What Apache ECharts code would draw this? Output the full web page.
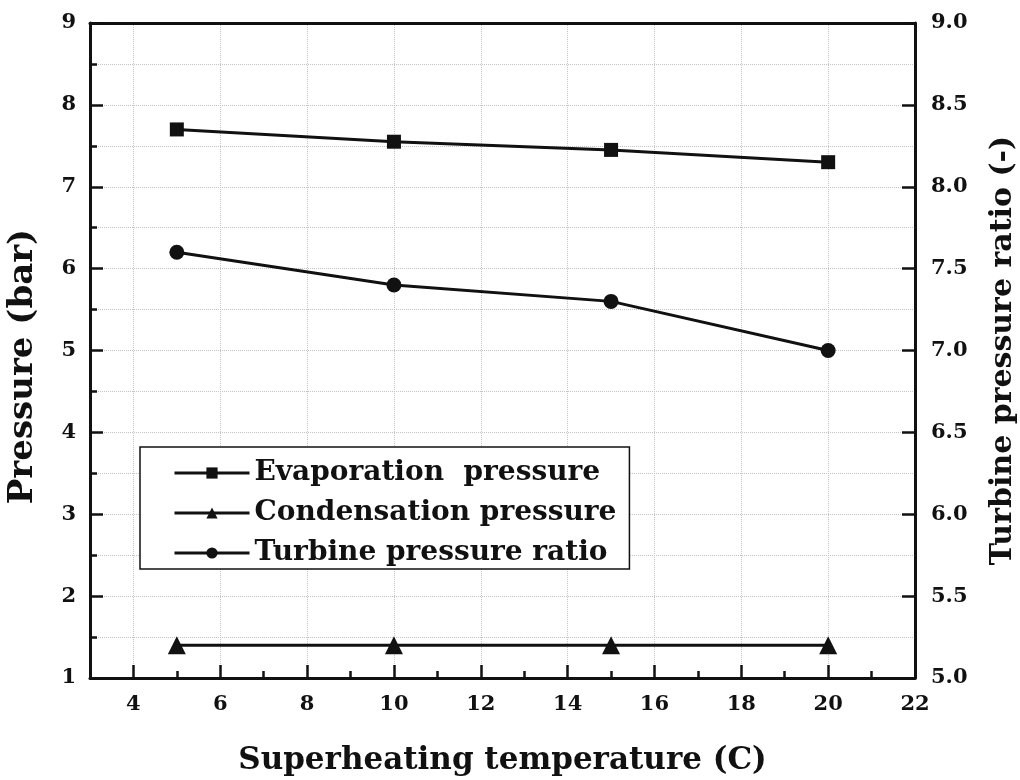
<!DOCTYPE html>
<html>
<head>
<meta charset="utf-8">
<script src="https://cdn.jsdelivr.net/npm/echarts@6/dist/echarts.min.js"></script>
<style>html,body{margin:0;padding:0;background:#fff;}#c{width:1020px;height:780px;}</style>
</head>
<body>
<div id="c"></div>
<script>
const superheat = [5, 10, 15, 20];
const evaporation = [7.7, 7.55, 7.45, 7.3];
const condensation = [1.4, 1.4, 1.4, 1.4];
const pressureRatio = [7.6, 7.4, 7.3, 7.0];
const xMajorTicks = [4, 6, 8, 10, 12, 14, 16, 18, 20, 22];
const xMinorTicks = [5, 7, 9, 11, 13, 15, 17, 19, 21];

const FONT = 'DejaVu Serif';
const INK = '#111';
const GRIDC = '#c4c4c4';
const pair = (ys) => superheat.map((x, i) => [x, ys[i]]);

const chart = echarts.init(document.getElementById('c'));
chart.setOption({
  backgroundColor: '#fff',
  animation: false,
  grid: { left: 90, right: 105, top: 23, bottom: 102, outerBoundsMode: 'none', containLabel: false },
  legend: {
    orient: 'vertical', left: 140, top: 447,
    itemWidth: 75, itemHeight: 14, itemGap: 12,
    padding: [12, 13, 2, 33],
    borderColor: INK, borderWidth: 1.5, backgroundColor: '#fff',
    lineStyle: { width: 3, color: INK },
    textStyle: { fontFamily: FONT, fontWeight: 'bold', fontSize: 28, color: INK },
    data: ['Evaporation  pressure', 'Condensation pressure', 'Turbine pressure ratio']
  },
  xAxis: [{
    type: 'value', min: 3, max: 22,
    name: 'Superheating temperature (C)', nameLocation: 'middle', nameGap: 67,
    nameTextStyle: { fontFamily: FONT, fontWeight: 'bold', fontSize: 31, color: INK },
    axisLine: { show: true, lineStyle: { color: INK, width: 3 } },
    axisTick: { show: true, inside: true, length: 13, customValues: xMajorTicks, lineStyle: { color: INK, width: 2.5 } },
    axisLabel: { customValues: xMajorTicks, margin: 16, fontFamily: FONT, fontWeight: 'bold', fontSize: 21, color: INK },
    splitLine: { show: true, lineStyle: { color: GRIDC, type: 'dotted', width: 1 } }
  }, {
    type: 'value', min: 3, max: 22, position: 'bottom',
    axisLine: { show: false },
    axisTick: { show: true, inside: true, length: 7, customValues: xMinorTicks, lineStyle: { color: INK, width: 2.5 } },
    axisLabel: { show: false },
    splitLine: { show: false }
  }, {
    type: 'value', min: 3, max: 22, position: 'top',
    axisLine: { show: true, lineStyle: { color: INK, width: 3 } },
    axisTick: { show: false }, axisLabel: { show: false }, splitLine: { show: false }
  }],
  yAxis: [{
    type: 'value', min: 1, max: 9, interval: 1, position: 'left',
    name: 'Pressure (bar)', nameLocation: 'middle', nameGap: 50, nameRotate: 90,
    nameTextStyle: { fontFamily: FONT, fontWeight: 'bold', fontSize: 34, color: INK, padding: [0, 32, 0, 0] },
    axisLine: { show: true, lineStyle: { color: INK, width: 3 } },
    axisTick: { show: true, inside: true, length: 13, lineStyle: { color: INK, width: 2.5 } },
    minorTick: { show: true, splitNumber: 2, length: 7, lineStyle: { color: INK, width: 2.5 } },
    axisLabel: { margin: 14, fontFamily: FONT, fontWeight: 'bold', fontSize: 21, color: INK },
    splitLine: { show: true, showMaxLine: false, showMinLine: false, lineStyle: { color: GRIDC, type: 'dotted', width: 1 } },
    minorSplitLine: { show: true, lineStyle: { color: GRIDC, type: 'dotted', width: 1 } }
  }, {
    type: 'value', min: 5, max: 9, interval: 0.5, position: 'right',
    name: 'Turbine pressure ratio (-)', nameLocation: 'middle', nameGap: 73, nameRotate: 90,
    nameTextStyle: { fontFamily: FONT, fontWeight: 'bold', fontSize: 30, color: INK },
    axisLine: { show: true, lineStyle: { color: INK, width: 3 } },
    axisTick: { show: true, inside: true, length: 13, lineStyle: { color: INK, width: 2.5 } },
    axisLabel: { margin: 16, formatter: (v) => v.toFixed(1), fontFamily: FONT, fontWeight: 'bold', fontSize: 21, color: INK },
    splitLine: { show: false }
  }],
  series: [{
    name: 'Evaporation  pressure', type: 'line', xAxisIndex: 0, yAxisIndex: 0,
    data: pair(evaporation), symbol: 'rect', symbolSize: 14,
    lineStyle: { color: INK, width: 3 }, itemStyle: { color: INK }
  }, {
    name: 'Condensation pressure', type: 'line', xAxisIndex: 0, yAxisIndex: 0,
    data: pair(condensation), symbol: 'triangle', symbolSize: 18,
    lineStyle: { color: INK, width: 3 }, itemStyle: { color: INK }
  }, {
    name: 'Turbine pressure ratio', type: 'line', xAxisIndex: 0, yAxisIndex: 1,
    data: pair(pressureRatio), symbol: 'circle', symbolSize: 15,
    lineStyle: { color: INK, width: 3 }, itemStyle: { color: INK }
  }]
});
</script>
</body>
</html>
